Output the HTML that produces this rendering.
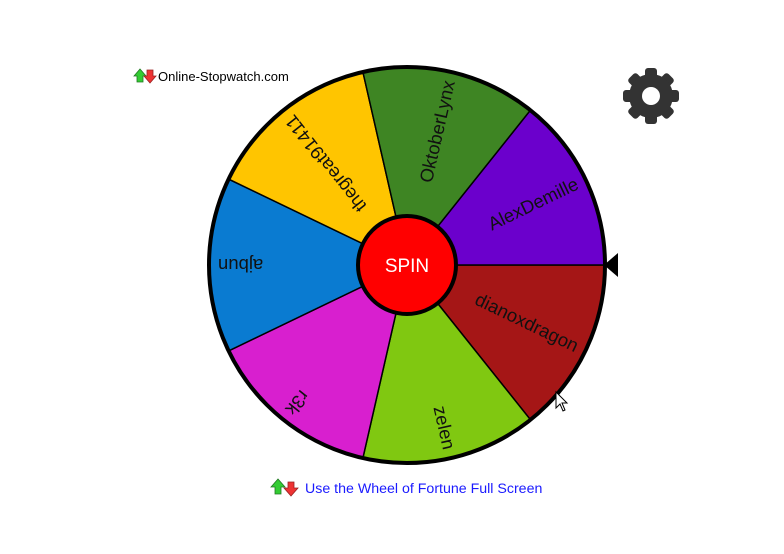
<!DOCTYPE html>
<html><head><style>
body{margin:0;width:784px;height:554px;background:#fff;overflow:hidden;font-family:"Liberation Sans",sans-serif}
</style></head><body>
<svg width="784" height="554" xmlns="http://www.w3.org/2000/svg" style="position:absolute;left:0;top:0">
<g stroke="#000" stroke-width="1.5">
<path d="M407,265 L605,265 A198,198 0 0 1 530.5,419.8Z" fill="#a51616"/>
<path d="M407,265 L530.5,419.8 A198,198 0 0 1 362.9,458Z" fill="#80c811"/>
<path d="M407,265 L362.9,458 A198,198 0 0 1 228.6,350.9Z" fill="#d81fcf"/>
<path d="M407,265 L228.6,350.9 A198,198 0 0 1 228.6,179.1Z" fill="#0a7bd1"/>
<path d="M407,265 L228.6,179.1 A198,198 0 0 1 362.9,72Z" fill="#ffc500"/>
<path d="M407,265 L362.9,72 A198,198 0 0 1 530.5,110.2Z" fill="#3e8523"/>
<path d="M407,265 L530.5,110.2 A198,198 0 0 1 605,265Z" fill="#6b00cc"/>
</g>
<circle cx="407" cy="265" r="198" fill="none" stroke="#000" stroke-width="4"/>
<g font-size="18.5" fill="#111" text-anchor="end" font-family="Liberation Sans, sans-serif">
<text x="596" y="271" transform="rotate(25.71 407 265)">dianoxdragon</text>
<text x="596" y="271" transform="rotate(77.14 407 265)">zelen</text>
<text x="596" y="271" transform="rotate(128.57 407 265)">r3k</text>
<text x="596" y="271" transform="rotate(180 407 265)">ajbun</text>
<text x="596" y="271" transform="rotate(231.43 407 265)">thegreat91411</text>
<text x="596" y="271" transform="rotate(282.86 407 265)">OktoberLynx</text>
<text x="596" y="271" transform="rotate(334.29 407 265)">AlexDemille</text>
</g>
<circle cx="407" cy="265" r="49" fill="#f00" stroke="#000" stroke-width="4"/>
<text x="407" y="272" font-size="19" fill="#fff" text-anchor="middle">SPIN</text>
<polygon points="604,265 618,253 618,277" fill="#000"/>
<g transform="translate(651,96)" fill="#333">
<g id="t"><rect x="-6" y="-28" width="12" height="14" rx="3"/></g>
<use href="#t" transform="rotate(45)"/><use href="#t" transform="rotate(90)"/><use href="#t" transform="rotate(135)"/>
<use href="#t" transform="rotate(180)"/><use href="#t" transform="rotate(225)"/><use href="#t" transform="rotate(270)"/><use href="#t" transform="rotate(315)"/>
<circle r="22"/>
<circle r="9" fill="#fff"/>
</g>
<g>
<polygon points="134,76 140,69 146,76 143,76 143,82 137,82 137,76" fill="#3c3" stroke="#272" stroke-width="0.8"/>
<polygon points="144,76 147,76 147,70 153,70 153,76 156,76 150,83" fill="#e33" stroke="#922" stroke-width="0.8"/>
</g>
<text x="158" y="81" font-size="13" fill="#000">Online-Stopwatch.com</text>
<g>
<polygon points="271,487 278,479 285,487 281,487 281,494 275,494 275,487" fill="#3c3" stroke="#272" stroke-width="0.8"/>
<polygon points="284,488 288,488 288,482 294,482 294,488 298,488 291,496" fill="#e33" stroke="#922" stroke-width="0.8"/>
</g>
<text x="305" y="493" font-size="14.2" fill="#1a1aff">Use the Wheel of Fortune Full Screen</text>
<path d="M556,392 L556,408 L560,404 L563,411 L565,410 L562,403 L567,403Z" fill="#fff" stroke="#000" stroke-width="1"/>
</svg>
</body></html>
